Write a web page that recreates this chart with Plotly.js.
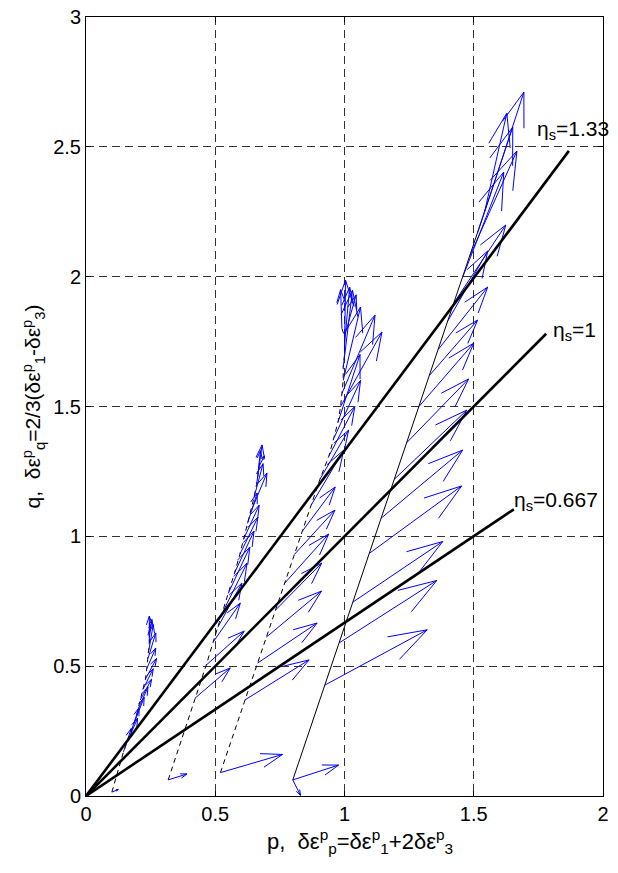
<!DOCTYPE html>
<html><head><meta charset="utf-8">
<script src="https://cdn.plot.ly/plotly-3.0.1.min.js"></script>
<style>html,body{margin:0;padding:0;background:#fff}</style>
</head><body><div id="chart" style="width:618px;height:873px"></div>
<script>
// ---- stress paths (p, q) ----
const path1P = [0.10,0.125,0.145,0.16,0.175,0.19,0.20,0.21,0.22,0.23,0.235,0.24,0.243,0.245,0.245,0.24];
const path1Q = [0.015,0.10,0.17,0.21,0.25,0.29,0.33,0.37,0.41,0.45,0.49,0.53,0.56,0.59,0.61,0.62];
const path2P = [0.318,0.375,0.422,0.465,0.492,0.51,0.53,0.55,0.575,0.595,0.61,0.625,0.64,0.65,0.66,0.665,0.67];
const path2Q = [0.062,0.23,0.377,0.504,0.593,0.65,0.71,0.78,0.86,0.93,0.99,1.05,1.10,1.15,1.20,1.24,1.27];
const path3P = [0.52,0.615,0.664,0.698,0.733,0.769,0.806,0.837,0.871,0.905,0.94,0.96,0.975,0.985,0.99,0.995,0.995,1.0,1.0,0.99];
const path3Q = [0.09,0.37,0.512,0.612,0.716,0.82,0.93,1.02,1.12,1.22,1.31,1.38,1.44,1.50,1.55,1.60,1.65,1.70,1.77,1.80];
const path4P = [0.80,0.924,0.98,1.033,1.097,1.142,1.193,1.24,1.288,1.329,1.363,1.40,1.424,1.458,1.485,1.515,1.542,1.569];
const path4Q = [0.062,0.427,0.59,0.747,0.935,1.07,1.22,1.36,1.50,1.62,1.72,1.83,1.90,2.0,2.08,2.17,2.25,2.33];

// ---- plastic strain increment vectors: base (p,q) and components (dp, dq) ----
const arrowP = [
  0.10,0.145,0.16,0.175,0.19,0.20,0.21,0.22,0.23,0.235,0.24,0.243,0.245,0.245,0.24,
  0.318,0.422,0.465,0.492,0.51,0.53,0.55,0.575,0.595,0.61,0.625,0.64,0.65,0.66,0.665,0.67,
  0.52,0.615,0.664,0.698,0.733,0.769,0.806,0.837,0.871,0.905,0.94,0.96,0.975,0.985,0.99,0.995,0.995,1.0,1.0,1.0,0.99,
  0.80,0.924,0.98,1.033,1.097,1.142,1.193,1.24,1.288,1.329,1.363,1.40,1.424,1.458,1.485,1.515,1.542,1.569,0.80
];
const arrowQ = [
  0.015,0.17,0.21,0.25,0.29,0.33,0.37,0.41,0.45,0.49,0.53,0.56,0.59,0.61,0.62,
  0.062,0.377,0.504,0.593,0.65,0.71,0.78,0.86,0.93,0.99,1.05,1.10,1.15,1.20,1.24,1.27,
  0.09,0.37,0.512,0.612,0.716,0.82,0.93,1.02,1.12,1.22,1.31,1.38,1.44,1.50,1.55,1.60,1.65,1.70,1.74,1.77,1.80,
  0.062,0.427,0.59,0.747,0.935,1.07,1.22,1.36,1.50,1.62,1.72,1.83,1.90,2.0,2.08,2.17,2.25,2.33,0.062
];
const arrowU = [
  0.025,0.03,0.04,0.03,0.035,0.04,0.044,0.04,0.043,0.035,0.03,0.017,0.0,0.01,0.01,
  0.073,0.136,0.147,0.105,0.093,0.093,0.084,0.075,0.07,0.06,0.037,0.06,0.035,0.021,0.01,0.02,
  0.24,0.248,0.23,0.213,0.179,0.17,0.157,0.127,0.126,0.111,0.10,0.102,0.085,0.16,0.128,0.067,0.036,0.004,0.02,0.045,-0.005,
  0.177,0.396,0.377,0.347,0.356,0.315,0.28,0.24,0.212,0.186,0.191,0.154,0.20,0.158,0.182,0.136,0.086,0.125,0.03
];
const arrowV = [
  0.01,0.09,0.09,0.09,0.09,0.09,0.08,0.08,0.08,0.08,0.098,0.10,0.103,0.07,0.04,
  0.023,0.116,0.131,0.15,0.17,0.187,0.179,0.16,0.144,0.13,0.117,0.144,0.13,0.152,0.09,0.04,
  0.07,0.154,0.154,0.177,0.181,0.189,0.171,0.17,0.212,0.189,0.19,0.22,0.26,0.287,0.302,0.283,0.298,0.287,0.22,0.16,0.15,
  0.057,0.213,0.24,0.233,0.259,0.262,0.266,0.246,0.244,0.213,0.24,0.269,0.299,0.403,0.404,0.406,0.38,0.381,-0.06
];

// ---- stress ratio lines q = eta * p ----
const etaValues = [1.33, 1, 0.667];
const etaLabels = ['1.33', '1', '0.667'];
const etaLineEndP = [1.868, 1.78, 1.655];
const etaLabelP = [1.737, 1.80, 1.648];
const etaLabelQ = [2.565, 1.79, 1.136];

const xTicks = [0, 0.5, 1, 1.5, 2];
const yTicks = [0, 0.5, 1, 1.5, 2, 2.5, 3];

const xTitle = 'p,\u00a0\u00a0\u03b4\u03b5<sup>p</sup><sub>p</sub>=\u03b4\u03b5<sup>p</sup><sub>1</sub>+2\u03b4\u03b5<sup>p</sup><sub>3</sub>';
const yTitle = 'q,\u00a0\u00a0\u03b4\u03b5<sup>p</sup><sub>q</sub>=2/3(\u03b4\u03b5<sup>p</sup><sub>1</sub>-\u03b4\u03b5<sup>p</sup><sub>3</sub>)';

// quiver-style arrows (MATLAB head proportions)
const alpha = 0.33, beta = 0.33;
const qx = [], qy = [];
for (let i = 0; i < arrowP.length; i++) {
  const x = arrowP[i], y = arrowQ[i], u = arrowU[i], v = arrowV[i];
  const tx = x + u, ty = y + v;
  qx.push(x, tx, null, tx - alpha*(u + beta*v), tx, tx - alpha*(u - beta*v), null);
  qy.push(y, ty, null, ty - alpha*(v - beta*u), ty, ty - alpha*(v + beta*u), null);
}

const FONT = 'Liberation Sans, Arial, Helvetica, sans-serif';
const traces = [];
const pathStyle = {color:'#000', width:1, dash:'5px,4px'};
[[path1P,path1Q],[path2P,path2Q],[path3P,path3Q]].forEach(pq => {
  traces.push({x:pq[0], y:pq[1], mode:'lines', line:pathStyle, hoverinfo:'skip', showlegend:false});
});
traces.push({x:path4P, y:path4Q, mode:'lines', line:{color:'#000', width:1}, hoverinfo:'skip', showlegend:false});
traces.push({x:qx, y:qy, mode:'lines', line:{color:'#0000ff', width:1}, hoverinfo:'skip', showlegend:false});
etaValues.forEach((e, i) => {
  traces.push({x:[0, etaLineEndP[i]], y:[0, e*etaLineEndP[i]], mode:'lines',
    line:{color:'#000', width:2.6}, hoverinfo:'skip', showlegend:false});
});

const annotations = etaValues.map((e, i) => ({
  x: etaLabelP[i], y: etaLabelQ[i], xref:'x', yref:'y', xanchor:'left', yanchor:'middle',
  text: '\u03b7<sub>s</sub>=' + etaLabels[i], showarrow:false,
  font:{family:FONT, size:21, color:'#000'}
}));
annotations.push({
  x: 0.53, y: -0.058, xref:'paper', yref:'paper', xanchor:'center', yanchor:'middle',
  text: xTitle, showarrow:false, font:{family:FONT, size:22, color:'#000'}
});

const axisCommon = {
  showgrid:true, gridcolor:'#333', griddash:'8px,5px', gridwidth:1,
  zeroline:false, showline:true, linecolor:'#000', linewidth:1, mirror:'ticks',
  ticks:'inside', ticklen:5, tickcolor:'#000', tickfont:{family:FONT, size:20, color:'#000'}
};

const layout = {
  width:618, height:873,
  margin:{l:86, r:15, t:17, b:77},
  paper_bgcolor:'#fff', plot_bgcolor:'#fff',
  font:{family:FONT, size:20, color:'#000'},
  xaxis:Object.assign({range:[0,2], tickvals:xTicks, ticktext:xTicks.map(String)}, axisCommon),
  yaxis:Object.assign({range:[0,3], tickvals:yTicks, ticktext:yTicks.map(String),
    title:{text:yTitle, font:{family:FONT, size:21, color:'#000'}, standoff:6}}, axisCommon),
  annotations: annotations
};

Plotly.newPlot('chart', traces, layout, {displayModeBar:false, staticPlot:true});
</script>
</body></html>
